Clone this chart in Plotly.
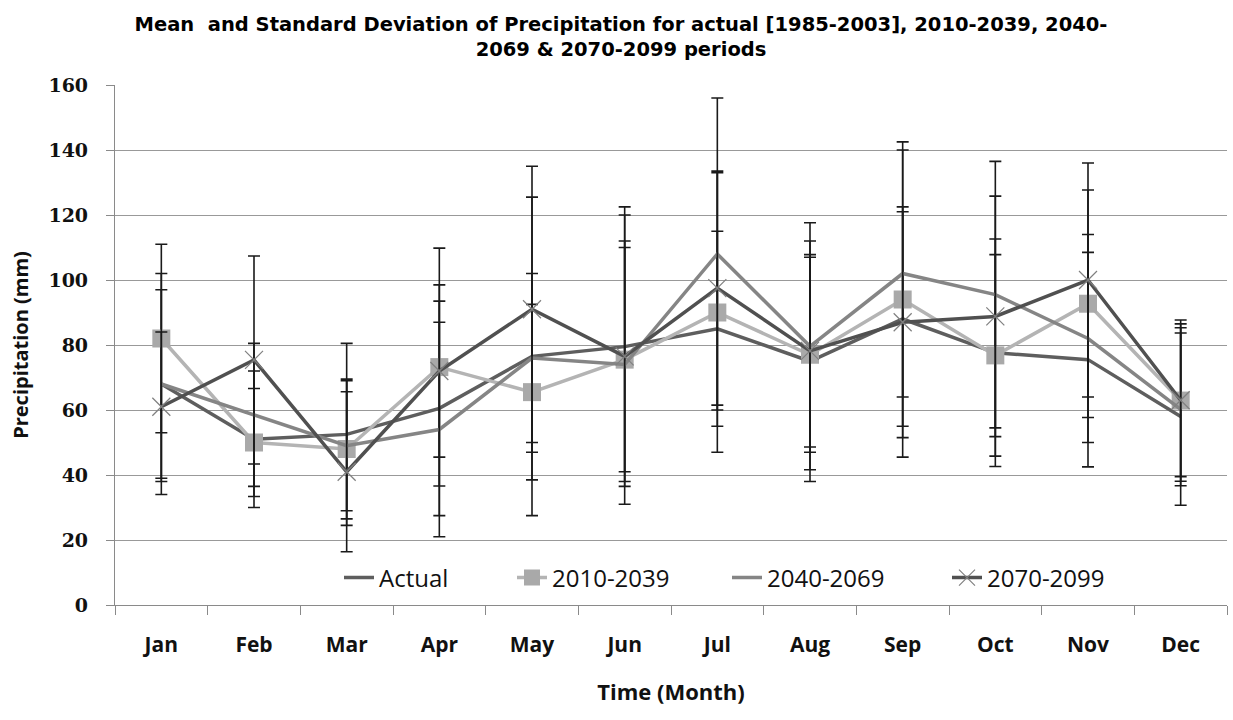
import plotly.graph_objects as go

months = ["Jan", "Feb", "Mar", "Apr", "May", "Jun", "Jul", "Aug", "Sep", "Oct", "Nov", "Dec"]

actual_mean = [68, 51, 52.5, 60.5, 76.5, 79.5, 85, 75, 88, 77.6, 75.5, 58]
actual_sd = [29, 21, 28, 33, 49, 43, 30, 37, 33, 35, 33, 27.3]

p2010_mean = [82, 50, 48, 73.2, 65.5, 75.5, 90, 77, 94, 76.8, 92.7, 62.9]
p2010_sd = [29, 16.6, 21.5, 36.6, 27, 44.5, 43, 30, 48.5, 31, 35, 24.8]

p2040_mean = [68, 58.5, 49, 54, 76, 74, 108, 79.6, 102, 95.5, 82, 60.2]
p2040_sd = [34, 22, 20, 33, 26, 36, 48, 38, 38, 41, 32, 23.5]

p2070_mean = [61, 75.4, 41, 72, 91, 76.5, 97.5, 78.2, 87, 88.8, 100, 63]
p2070_sd = [23, 32, 24.6, 26.5, 44, 35.5, 36, 29.6, 35.5, 37, 36, 23.5]

series = [
    dict(name="Actual", mean=actual_mean, sd=actual_sd, color="#5e5e5e",
         marker=dict(symbol="circle", size=1, opacity=0), legend="legend"),
    dict(name="2010-2039", mean=p2010_mean, sd=p2010_sd, color="#b4b4b4",
         marker=dict(symbol="square", size=18, color="#a9a9a9"), legend="legend2"),
    dict(name="2040-2069", mean=p2040_mean, sd=p2040_sd, color="#858585",
         marker=dict(symbol="circle", size=1, opacity=0), legend="legend3"),
    dict(name="2070-2099", mean=p2070_mean, sd=p2070_sd, color="#505050",
         marker=dict(symbol="x-thin-open", size=18, color="#808080",
                     line=dict(width=1.2, color="#808080")), legend="legend4"),
]

fig = go.Figure()
for s in series:
    fig.add_trace(go.Scatter(
        x=months, y=s["mean"], name=s["name"], mode="lines+markers",
        line=dict(color=s["color"], width=3.5),
        marker=s["marker"],
        error_y=dict(type="data", array=s["sd"], visible=True,
                     color="#1a1a1a", thickness=1.6, width=6),
        legend=s["legend"], showlegend=True,
    ))

L, R, T, B = 115, 6, 85, 115
W, H = 1233, 720
pw = W - L - R
ph = H - T - B

def lx(px):
    return (px - L) / pw

leg_common = dict(orientation="h", yanchor="middle", xanchor="left",
                  y=(H - B - 578) / ph, bgcolor="rgba(0,0,0,0)",
                  font=dict(family="Open Sans", size=24, color="#111111"),
                  itemwidth=30, visible=True)

fig.update_layout(
    width=W, height=H,
    margin=dict(l=L, r=R, t=T, b=B),
    paper_bgcolor="white", plot_bgcolor="white",
    showlegend=True,
    title=dict(
        text="Mean  and Standard Deviation of Precipitation for actual [1985-2003], 2010-2039, 2040-<br>2069 &amp; 2070-2099 periods",
        x=621 / W, xref="container", xanchor="center",
        y=1 - 31 / H, yref="container", yanchor="middle",
        font=dict(family="DejaVu Sans", size=19.5, color="#000000", weight="bold"),
    ),
    legend=dict(x=lx(339), **leg_common),
    legend2=dict(x=lx(512), **leg_common),
    legend3=dict(x=lx(727), **leg_common),
    legend4=dict(x=lx(947), **leg_common),
    xaxis=dict(
        type="category", range=[-0.5, 11.5],
        showline=True, linecolor="#8a8a8a", linewidth=1.2,
        showgrid=False, ticks="outside", tickson="boundaries",
        ticklen=9, tickcolor="#8a8a8a", tickwidth=1.2,
        tickfont=dict(family="Open Sans", size=21, color="#111111", weight="bold"),
        ticklabelstandoff=21,
        title=dict(text="Time (Month)", standoff=27,
                   font=dict(family="Open Sans", size=22, color="#111111", weight="bold")),
    ),
    yaxis=dict(
        range=[0, 160], dtick=20, tick0=0,
        showline=True, linecolor="#8a8a8a", linewidth=1.2,
        showgrid=True, gridcolor="#999999", gridwidth=1.2,
        zeroline=False,
        ticks="outside", ticklen=8, tickcolor="#8a8a8a", tickwidth=1.2,
        tickfont=dict(family="DejaVu Serif", size=19, color="#111111", weight="bold"),
        ticklabelstandoff=14,
        title=dict(text="Precipitation (mm)", standoff=14,
                   font=dict(family="Open Sans", size=20, color="#111111", weight="bold")),
    ),
)

fig.write_html("out.html")
